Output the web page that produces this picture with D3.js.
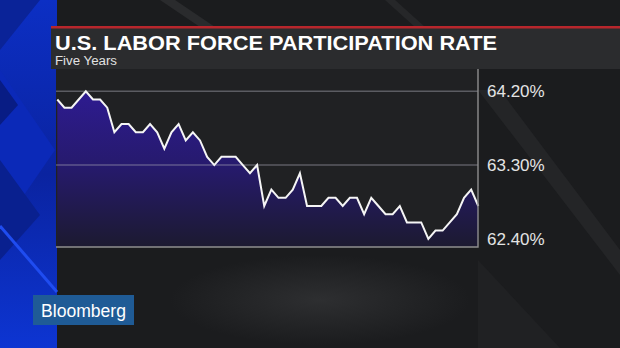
<!DOCTYPE html>
<html>
<head>
<meta charset="utf-8">
<script src="https://cdn.jsdelivr.net/npm/d3@7"></script>
<style>
  html, body { margin: 0; padding: 0; background: #1b1c1e; }
  svg { display: block; }
</style>
</head>
<body>
<svg id="chart" width="620" height="348"></svg>
<script>
// monthly participation rate, five years
const rates = [
  64.1, 64.0, 64.0, 64.1, 64.2, 64.1, 64.1, 64.0, 63.7, 63.8,
  63.8, 63.7, 63.7, 63.8, 63.7, 63.5, 63.7, 63.8, 63.6, 63.7,
  63.6, 63.4, 63.3, 63.4, 63.4, 63.4, 63.3, 63.2, 63.3, 62.8,
  63.0, 62.9, 62.9, 63.0, 63.2, 62.8, 62.8, 62.8, 62.9, 62.9,
  62.8, 62.9, 62.9, 62.7, 62.9, 62.8, 62.7, 62.7, 62.8, 62.6,
  62.6, 62.6, 62.4, 62.5, 62.5, 62.6, 62.7, 62.9, 63.0, 62.8
];
const tickValues = [62.4, 63.3, 64.2];
const gridValues = [63.3, 64.2];
const title = "U.S. LABOR FORCE PARTICIPATION RATE";
const subtitle = "Five Years";

const svg = d3.select("#chart");
const W = 620, H = 348;

// panel box
const panel = { left: 56, right: 478, top: 69, bottom: 247 };

const defs = svg.append("defs");

const fillGrad = defs.append("linearGradient")
    .attr("id", "areaFill")
    .attr("gradientUnits", "userSpaceOnUse")
    .attr("x1", 0).attr("y1", 88).attr("x2", 0).attr("y2", panel.bottom);
fillGrad.append("stop").attr("offset", 0).attr("stop-color", "#2e1b92");
fillGrad.append("stop").attr("offset", 0.5).attr("stop-color", "#261a6c");
fillGrad.append("stop").attr("offset", 1).attr("stop-color", "#1c1a30");

const blueGrad = defs.append("linearGradient")
    .attr("id", "blueBg")
    .attr("x1", 0).attr("y1", 0).attr("x2", 0).attr("y2", 1);
blueGrad.append("stop").attr("offset", 0).attr("stop-color", "#0c2fc4");
blueGrad.append("stop").attr("offset", 0.5).attr("stop-color", "#0a23a0");
blueGrad.append("stop").attr("offset", 1).attr("stop-color", "#0d35d2");

const glow = defs.append("radialGradient").attr("id", "glow");
glow.append("stop").attr("offset", 0).attr("stop-color", "#3a3b3d").attr("stop-opacity", 0.6);
glow.append("stop").attr("offset", 1).attr("stop-color", "#3a3b3d").attr("stop-opacity", 0);

// background
svg.append("rect").attr("width", W).attr("height", H).attr("fill", "#1b1c1e");
svg.append("ellipse").attr("cx", 320).attr("cy", 300).attr("rx", 150).attr("ry", 45)
    .attr("fill", "url(#glow)");
// faint diagonal streaks
svg.append("polygon").attr("points", "160,0 175,0 215,27 200,27").attr("fill", "#2a2b2d");
svg.append("polygon").attr("points", "385,0 395,0 425,27 415,27").attr("fill", "#262729");
svg.append("polygon").attr("points", "478,90 500,90 620,250 620,275").attr("fill", "#242527");
svg.append("polygon").attr("points", "478,260 560,348 478,348").attr("fill", "#202123");

// blue band at left
svg.append("rect").attr("x", 0).attr("y", 0).attr("width", 57).attr("height", H)
    .attr("fill", "url(#blueBg)");
svg.append("polygon").attr("points", "0,70 55,150 0,230").attr("fill", "#0b29b8");
svg.append("polygon").attr("points", "0,80 18,105 0,125").attr("fill", "#081c84");
svg.append("polygon").attr("points", "0,160 40,215 0,260").attr("fill", "#09208f");
svg.append("line").attr("x1", 0).attr("y1", 226).attr("x2", 57).attr("y2", 292)
    .attr("stroke", "#1f4cf0").attr("stroke-width", 3);
svg.append("polygon").attr("points", "0,0 40,0 0,50").attr("fill", "#0a2398");

// title bar
svg.append("rect").attr("x", 51).attr("y", 26).attr("width", W - 51).attr("height", 43)
    .attr("fill", "#2b2c2e");
svg.append("rect").attr("x", 51).attr("y", 26).attr("width", W - 51).attr("height", 2.5)
    .attr("fill", "#b8262c");

svg.append("text")
    .attr("x", 55).attr("y", 49.5)
    .attr("font-family", "'Liberation Sans', Arial, sans-serif")
    .attr("font-weight", "bold")
    .attr("font-size", 21)
    .attr("textLength", 442)
    .attr("lengthAdjust", "spacingAndGlyphs")
    .attr("fill", "#ffffff")
    .text(title);

svg.append("text")
    .attr("x", 55).attr("y", 65)
    .attr("font-family", "'Liberation Sans', Arial, sans-serif")
    .attr("font-size", 12)
    .attr("textLength", 62)
    .attr("lengthAdjust", "spacingAndGlyphs")
    .attr("fill", "#e2e2e2")
    .text(subtitle);

// chart panel
svg.append("rect")
    .attr("x", panel.left).attr("y", panel.top)
    .attr("width", panel.right - panel.left).attr("height", panel.bottom - panel.top)
    .attr("fill", "#202123");

const x = d3.scaleLinear()
    .domain([0, rates.length - 1])
    .range([57.3, 478.3]);

const y = d3.scaleLinear()
    .domain([62.4, 64.2])
    .range([238.8, 91.3]);

const area = d3.area()
    .x((d, i) => x(i))
    .y0(panel.bottom)
    .y1(d => y(d));

const line = d3.line()
    .x((d, i) => x(i))
    .y(d => y(d));

svg.append("path")
    .datum(rates)
    .attr("d", area)
    .attr("fill", "url(#areaFill)");

// grid lines
svg.append("g").selectAll("line")
    .data(gridValues)
    .enter().append("line")
    .attr("x1", panel.left).attr("x2", panel.right)
    .attr("y1", d => y(d)).attr("y2", d => y(d))
    .attr("stroke", "rgba(175,175,185,0.42)")
    .attr("stroke-width", 1.5);

svg.append("path")
    .datum(rates)
    .attr("d", line)
    .attr("fill", "none")
    .attr("stroke", "#f5f5f5")
    .attr("stroke-width", 2)
    .attr("stroke-linejoin", "miter");

// panel border, right and bottom
svg.append("path")
    .attr("d", `M${panel.left},${panel.bottom}H${panel.right}V${panel.top}`)
    .attr("fill", "none")
    .attr("stroke", "#8e8e8e")
    .attr("stroke-width", 1.4);

// y axis labels on the right
const yAxis = d3.axisRight(y)
    .tickValues(tickValues)
    .tickSize(0)
    .tickPadding(9)
    .tickFormat(d => d3.format(".2f")(d) + "%");

const axisG = svg.append("g")
    .attr("transform", `translate(${panel.right},0)`)
    .call(yAxis);
axisG.select(".domain").remove();
axisG.selectAll("text")
    .attr("font-family", "'Liberation Sans', Arial, sans-serif")
    .attr("font-size", 17)
    .attr("fill", "#e4e4e4");

// logo
svg.append("rect").attr("x", 33).attr("y", 295).attr("width", 101).attr("height", 30)
    .attr("fill", "#1f5b96");
svg.append("text")
    .attr("x", 41).attr("y", 317)
    .attr("font-family", "'Liberation Sans', Arial, sans-serif")
    .attr("font-size", 17.5)
    .attr("textLength", 85)
    .attr("lengthAdjust", "spacingAndGlyphs")
    .attr("fill", "#ffffff")
    .text("Bloomberg");
</script>
</body>
</html>
